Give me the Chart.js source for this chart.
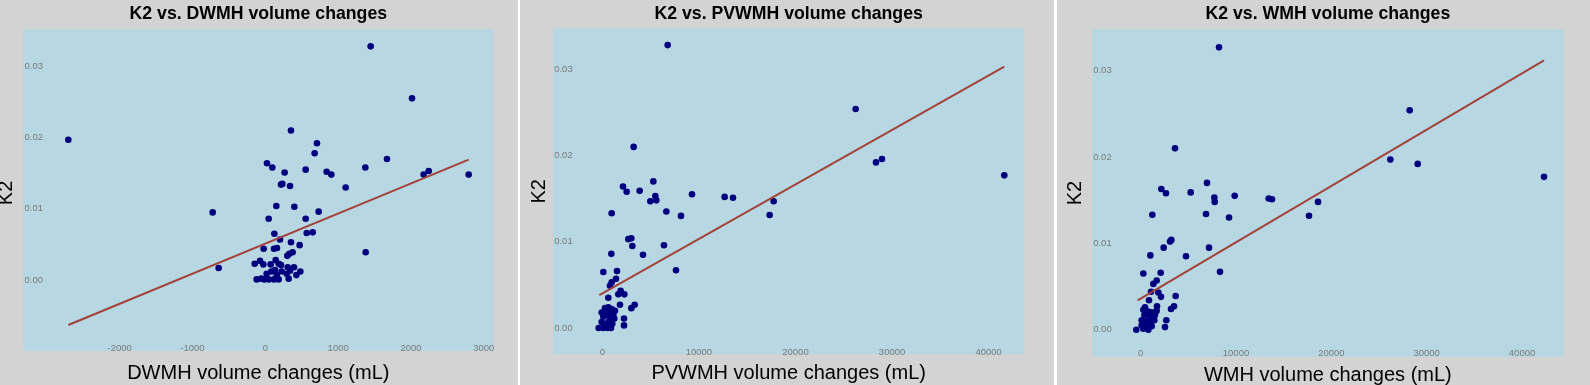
<!DOCTYPE html>
<html>
<head>
<meta charset="utf-8">
<script src="https://cdn.jsdelivr.net/npm/chart.js@4.4.1/dist/chart.umd.min.js"></script>
<style>
  html, body { margin: 0; padding: 0; background: #ffffff; }
  body { width: 1590px; height: 385px; position: relative; overflow: hidden; }
  .panel { position: absolute; top: 0; height: 385px; background: #d3d3d3; }
  canvas { display: block; }
</style>
</head>
<body>
<div class="panel" style="left:0;width:518px"><canvas id="dwmh" width="518" height="385"></canvas></div>
<div class="panel" style="left:520px;width:534px"><canvas id="pvwmh" width="534" height="385"></canvas></div>
<div class="panel" style="left:1057px;width:533px"><canvas id="wmh" width="533" height="385"></canvas></div>
<script>
// values (volume change in mL, K2)
const dwmhChange = [-2705, 1446, 2014, 352, 709, 677, 1670, 23, 96, 265, 554, 842, 906, 1373, 2174, 2243, 2792,
  1103, 215, 233, 339, 151, 398, -723, 46, 554, 732, 124, 568, 650, 201, 352, 471, -23, 119, 160, 302, 330, 375,
  1378, -641, -146, -73, -27, 73, 142, 183, 215, 307, 394, 339, 481, 426, 320, 183, 119, 46, -14, -119, 18, 82,
  133, 156, 293, -55, 224];
const dwmhK2 = [0.0197, 0.0328, 0.0255, 0.0210, 0.0192, 0.0178, 0.0170, 0.0164, 0.0158, 0.0151, 0.0155, 0.0152,
  0.0148, 0.0158, 0.0148, 0.0153, 0.0148, 0.0130, 0.0134, 0.0135, 0.0132, 0.0104, 0.0103, 0.0095, 0.0086, 0.0086,
  0.0096, 0.0065, 0.0066, 0.0067, 0.0057, 0.0053, 0.0049, 0.0044, 0.0044, 0.0045, 0.0034, 0.0037, 0.0039, 0.0039,
  0.0017, 0.0023, 0.0027, 0.0022, 0.0022, 0.0028, 0.0023, 0.0021, 0.0018, 0.0018, 0.0013, 0.0012, 0.0007, 0.0002,
  0.0001, 0.0001, 0.0001, 0.0001, 0.0001, 0.0009, 0.0012, 0.0014, 0.0007, 0.0009, 0.0002, 0.0012];
const dwmhFitX = [-2705, 2792];
const dwmhFitK2 = [-0.0063, 0.0169];

const pvwmhChange = [6764, 26230, 3244, 28335, 28956, 41622, 5280, 2140, 2519, 3865, 5487, 4970, 5591, 9284, 12666,
  13529, 17739, 17325, 6626, 8145, 966, 2692, 3003, 3106, 6385, 932, 4211, 7627, 104, 1519, 1415, 966, 794, 1898,
  2278, 1657, 621, 1829, 3003, 3348, 2243, 2243, -380, -69, 276, 621, 966, 1311, 104, 552, 897, 1242, -69, 276,
  690, 1035, 104, 552, 897, 449, 1139, 276, 794];
const pvwmhK2 = [0.0328, 0.0254, 0.0210, 0.0192, 0.0196, 0.0177, 0.0170, 0.0164, 0.0158, 0.0159, 0.0153, 0.0147,
  0.0148, 0.0155, 0.0152, 0.0151, 0.0147, 0.0131, 0.0135, 0.0130, 0.0133, 0.0103, 0.0104, 0.0095, 0.0096, 0.0086,
  0.0085, 0.0067, 0.0065, 0.0066, 0.0057, 0.0053, 0.0049, 0.0043, 0.0039, 0.0039, 0.0035, 0.0027, 0.0023, 0.0027,
  0.0011, 0.0003, 0.0000, 0.0018, 0.0023, 0.0024, 0.0022, 0.0020, 0.0013, 0.0015, 0.0013, 0.0011, 0.0007, 0.0005,
  0.0008, 0.0005, 0.0000, 0.0000, 0.0000, 0.0004, 0.0016, 0.0019, 0.0018];
const pvwmhFitX = [-311, 41622];
const pvwmhFitK2 = [0.0038, 0.0303];

const wmhChange = [8217, 28217, 3601, 26189, 29056, 42308, 6958, 2168, 2657, 5245, 7727, 7762, 9860, 13427, 13776,
  18601, 17657, 6853, 9266, 1224, 3077, 3217, 2413, 7168, 1014, 4755, 8322, 280, 2098, 1678, 1329, 1084, 1853,
  2133, 3671, 874, 1713, 3497, 3182, 2692, 2552, -455, 280, 455, 804, 1154, 385, 979, 1329, 105, 629, 1084, 1434,
  105, 524, 979, 280, 804, 1154, 629, 1503, 1678];
const wmhK2 = [0.0327, 0.0254, 0.0210, 0.0197, 0.0192, 0.0177, 0.0170, 0.0163, 0.0158, 0.0159, 0.0153, 0.0148,
  0.0155, 0.0152, 0.0151, 0.0148, 0.0132, 0.0134, 0.0130, 0.0133, 0.0102, 0.0104, 0.0095, 0.0095, 0.0086, 0.0085,
  0.0067, 0.0065, 0.0066, 0.0057, 0.0053, 0.0044, 0.0043, 0.0038, 0.0039, 0.0034, 0.0027, 0.0027, 0.0024, 0.0011,
  0.0003, 0.0000, 0.0023, 0.0026, 0.0021, 0.0020, 0.0017, 0.0015, 0.0013, 0.0011, 0.0010, 0.0009, 0.0011, 0.0005,
  0.0004, 0.0006, 0.0001, 0.0000, 0.0004, 0.0007, 0.0017, 0.0022];
const wmhFitX = [-315, 42308];
const wmhFitK2 = [0.0034, 0.0312];

// tick values shown on the axes
const dwmhTicks = [-2000, -1000, 0, 1000, 2000, 3000];
const volumeTicks = [0, 10000, 20000, 30000, 40000];
const k2Ticks = [0, 0.01, 0.02, 0.03];

Chart.defaults.font.family = '"Liberation Sans", Arial, Helvetica, sans-serif';

// light blue panel behind the plotting area
const panelBg = {
  id: 'panelBg',
  beforeDraw(chart) {
    const { ctx, chartArea: a } = chart;
    ctx.save();
    ctx.fillStyle = '#b7d8e3';
    ctx.fillRect(a.left, a.top, a.right - a.left, a.bottom - a.top);
    ctx.restore();
  }
};

function toPoints(xs, ys) {
  return xs.map((x, i) => ({ x: x, y: ys[i] }));
}

function drawPanel(id, p) {
  new Chart(document.getElementById(id), {
    type: 'scatter',
    data: {
      datasets: [
        { data: toPoints(p.fitX, p.fitY), showLine: true, borderColor: '#a3423b', borderWidth: 2,
          pointRadius: 0, order: 0 },
        { data: toPoints(p.x, p.y), backgroundColor: '#00007f', borderWidth: 0, pointRadius: 3.3,
          pointHoverRadius: 3.3, order: 1 }
      ]
    },
    options: {
      responsive: false,
      animation: false,
      devicePixelRatio: 1,
      layout: { padding: { left: 0, right: p.padRight, top: 0, bottom: 0 } },
      plugins: {
        legend: { display: false },
        tooltip: { enabled: false },
        title: {
          display: true, text: p.title, fullSize: false, color: '#000',
          font: { size: 17.7, weight: 'bold' },
          padding: { top: p.titleTop, bottom: p.titleBottom }
        }
      },
      scales: {
        x: {
          type: 'linear', min: p.xMin, max: p.xMax,
          grid: { display: false, drawTicks: false },
          border: { display: false },
          afterFit: s => { s.height = p.xAxisH; },
          afterBuildTicks: s => { s.ticks = p.xTicks.map(v => ({ value: v })); },
          ticks: {
            autoSkip: false, maxRotation: 0,
            mirror: true, padding: p.xTickPad, color: '#7a7a7a', font: { size: 9.5 },
            callback: v => String(Math.round(v))
          },
          title: { display: true, text: p.xTitle, color: '#000', font: { size: 20 },
                   padding: { top: 0, bottom: p.xTitleBottom } }
        },
        y: {
          type: 'linear', min: p.yMin, max: p.yMax,
          grid: { display: false, drawTicks: false },
          border: { display: false },
          afterFit: s => { s.width = p.yAxisW; },
          afterBuildTicks: s => { s.ticks = k2Ticks.map(v => ({ value: v })); },
          ticks: {
            mirror: true, padding: 1.2,
            color: '#7a7a7a', font: { size: 9.5 },
            callback: v => v.toFixed(2)
          },
          title: { display: true, text: p.yTitle, color: '#000', font: { size: 20 },
                   padding: { top: p.yTitleTop, bottom: 0 } }
        }
      }
    },
    plugins: [panelBg]
  });
}

drawPanel('dwmh', {
  title: 'K2 vs. DWMH volume changes', xTitle: 'DWMH volume changes (mL)', yTitle: 'K2 ',
  x: dwmhChange, y: dwmhK2, fitX: dwmhFitX, fitY: dwmhFitK2, xTicks: dwmhTicks,
  xMin: -3323, xMax: 3130, yMin: -0.00995, yMax: 0.03519,
  padRight: 24.7, yAxisW: 23.3, xAxisH: 34, titleTop: 3.4, titleBottom: 4.66,
  xTickPad: -3.0, xTitleBottom: 0, yTitleTop: -5.5
});

drawPanel('pvwmh', {
  title: 'K2 vs. PVWMH volume changes', xTitle: 'PVWMH volume changes (mL)', yTitle: 'K2',
  x: pvwmhChange, y: pvwmhK2, fitX: pvwmhFitX, fitY: pvwmhFitK2, xTicks: volumeTicks,
  xMin: -5108, xMax: 43693, yMin: -0.00305, yMax: 0.03475,
  padRight: 29.7, yAxisW: 33, xAxisH: 30.7, titleTop: 3.4, titleBottom: 3.66,
  xTickPad: -3.5, xTitleBottom: 0, yTitleTop: 7
});

drawPanel('wmh', {
  title: 'K2 vs. WMH volume changes', xTitle: 'WMH volume changes (mL)', yTitle: 'K2',
  x: wmhChange, y: wmhK2, fitX: wmhFitX, fitY: wmhFitK2, xTicks: volumeTicks,
  xMin: -5105, xMax: 44371, yMin: -0.00313, yMax: 0.03479,
  padRight: 26.3, yAxisW: 35, xAxisH: 28.3, titleTop: 3.4, titleBottom: 4.66,
  xTickPad: -2.7, xTitleBottom: -2, yTitleTop: 6.8
});
</script>
</body>
</html>
